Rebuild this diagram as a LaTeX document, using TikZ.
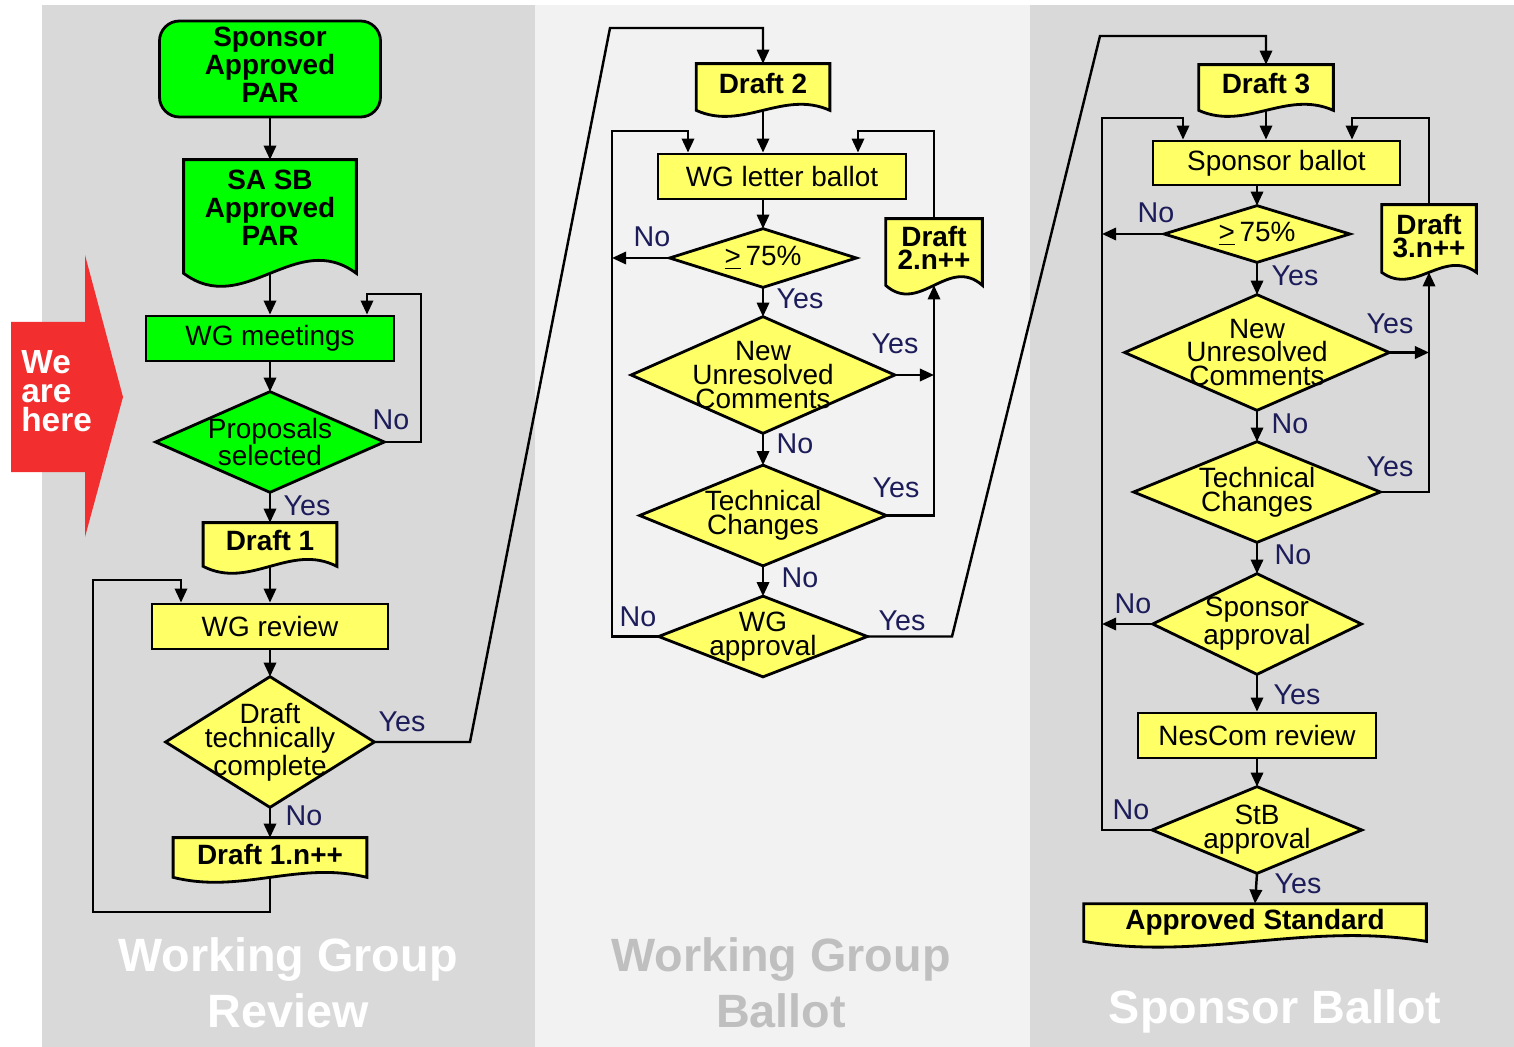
\documentclass[tikz,border=0pt]{standalone}
\usepackage{fontspec}
\setmainfont{Liberation Sans}
\usetikzlibrary{arrows.meta,calc}
\definecolor{colGray}{HTML}{D9D9D9}
\definecolor{colLight}{HTML}{F2F2F2}
\definecolor{flowGreen}{HTML}{00FF00}
\definecolor{flowYellow}{HTML}{FFFF66}
\definecolor{hereRed}{HTML}{F22E2E}
\definecolor{lblNavy}{HTML}{1C1C5A}
\definecolor{titleGray}{HTML}{BFBFBF}
\newcommand{\flowtxt}{\fontsize{15.9pt}{13.6pt}\selectfont}
\newcommand{\flowbold}{\fontsize{15.9pt}{13.4pt}\selectfont\bfseries}
\newcommand{\parbold}{\fontsize{15.9pt}{16pt}\selectfont\bfseries}
\newcommand{\yesno}{\fontsize{16.3pt}{16pt}\selectfont}
\newcommand{\titlefont}{\fontsize{26.6pt}{31.9pt}\selectfont\bfseries}
\newcommand{\heretxt}{\fontsize{19pt}{16.4pt}\selectfont\bfseries}
\pgfdeclarelayer{colbg}
\pgfdeclarelayer{outline}
\pgfsetlayers{colbg,outline,main}

\begin{document}
\begin{tikzpicture}[x=0.02cm,y=-0.02cm,
    sz/.style 2 args={minimum width=#1*0.02cm,minimum height=#2*0.02cm},
    outl/.style={draw=black,line width=1.6pt,line join=miter},
    startbox/.style={outl,fill=flowGreen,rounded corners=0.4cm,inner sep=0pt,align=center,font=\parbold},
    procbox/.style={outl,fill=flowYellow,inner sep=0pt,align=center,font=\flowtxt},
    docbox/.style={inner sep=0pt,align=center,font=\flowbold},
    decision/.style={inner sep=0pt,align=center,font=\flowtxt},
    answer/.style={inner sep=0pt,font=\yesno,text=lblNavy},
    coltitle/.style={inner sep=0pt,align=center,font=\titlefont},
    arr/.style={draw=black,line width=1.4pt,-{Triangle[length=8pt,width=7pt]}}]

  \useasboundingbox (0,0) rectangle (1514,1047);

  % column backgrounds and marker
  \begin{pgfonlayer}{colbg}
    \fill[colGray]  (42,5)   rectangle (535,1047);
    \fill[colLight] (535,5)  rectangle (1030,1047);
    \fill[colGray]  (1030,5) rectangle (1514,1047);
    \fill[hereRed] (11,322) -- (85,322) -- (85,255) -- (123,397) -- (85,537)
      -- (85,472) -- (11,472) -- cycle;
  \end{pgfonlayer}
  \node[font=\heretxt,text=white,align=left,anchor=west,inner sep=0pt] (here) at (21,391) {We\\are\\here};

  % working group review
  \node[startbox,sz={221}{96}] (spap) at (270,69) {Sponsor\\Approved\\PAR\\[-11.5pt]};
  \node[docbox,sz={172}{96},font=\parbold] (sasb) at (270,208) {SA SB\\Approved\\PAR};
  \node[procbox,fill=flowGreen,sz={248}{45}] (wgm) at (270,338.5) {WG meetings};
  \node[decision,sz={228}{100}] (prop) at (270,442) {Proposals\\selected};
  \node[docbox,sz={133}{36}] (d1) at (270,541) {Draft 1};
  \node[procbox,sz={236}{45}] (wgr) at (270,626.5) {WG review};
  \node[decision,sz={208}{130},font=\fontsize{15.9pt}{14pt}\selectfont] (dtc) at (270,742) {Draft\\technically\\complete};
  \node[docbox,sz={193}{34}] (d1n) at (270,855) {Draft 1.n++};

  % working group ballot
  \node[docbox,sz={133}{40}] (d2) at (763,84) {Draft 2};
  \node[procbox,sz={248}{45}] (wglb) at (782,176.5) {WG letter ballot};
  \node[decision,sz={186}{58}] (p75a) at (763,258) {\underline{>}\,75\%};
  \node[decision,sz={263}{116}] (nuca) at (763,375) {New\\Unresolved\\Comments};
  \node[decision,sz={246}{100}] (tca) at (763,515.5) {Technical\\Changes};
  \node[decision,sz={208}{80}] (wga) at (763,636.5) {WG\\approval};
  \node[docbox,sz={96}{58}] (d2n) at (934,248) {Draft\\2.n++};

  % sponsor ballot
  \node[docbox,sz={134}{38}] (d3) at (1266,84) {Draft 3};
  \node[procbox,sz={247}{44}] (spb) at (1276.5,163) {Sponsor ballot};
  \node[decision,sz={185}{56}] (p75b) at (1257,234) {\underline{>}\,75\%};
  \node[decision,sz={264}{115}] (nucb) at (1257,352.5) {New\\Unresolved\\Comments};
  \node[decision,sz={246}{100}] (tcb) at (1257,492) {Technical\\Changes};
  \node[decision,sz={208}{100}] (spa) at (1257,624) {Sponsor\\approval};
  \node[procbox,sz={238}{45}] (nes) at (1257,735.5) {NesCom review};
  \node[decision,sz={209}{86}] (stb) at (1257,830) {StB\\approval};
  \node[docbox,sz={342}{36}] (std) at (1255,922) {Approved Standard};
  \node[docbox,sz={94}{62}] (d3n) at (1429,236) {Draft\\3.n++};

  % document and decision outlines
  \begin{pgfonlayer}{outline}
    \foreach \n/\c/\b/\d in {sasb/flowGreen/17/45,d1/flowYellow/7/24,d1n/flowYellow/5/17,
        d2/flowYellow/6/21,d2n/flowYellow/8/30,d3/flowYellow/7/21,d3n/flowYellow/5/24,
        std/flowYellow/1/20}{
      \coordinate (\n-bl) at ($(\n.south west)+(0,\b)$);
      \coordinate (\n-br) at ($(\n.south east)+(0,\b)$);
      \coordinate (\n-b)  at ($(\n.south)+(0,\b)$);
      \draw[outl,fill=\c] (\n.north west) -- (\n.north east) -- (\n-br)
        .. controls ($(\n-br)!0.35!(\n-bl)+(0,-\d)$) and ($(\n-br)!0.65!(\n-bl)+(0,\d)$) .. (\n-bl) -- cycle;
    }
    \foreach \n/\c in {prop/flowGreen,dtc/flowYellow,p75a/flowYellow,nuca/flowYellow,
        tca/flowYellow,wga/flowYellow,p75b/flowYellow,nucb/flowYellow,tcb/flowYellow,
        spa/flowYellow,stb/flowYellow}
      \draw[outl,fill=\c] (\n.north) -- (\n.east) -- (\n.south) -- (\n.west) -- cycle;
  \end{pgfonlayer}

  % turning points
  \coordinate (lpL1) at (421,294);
  \coordinate (lpL2) at (93,912);
  \coordinate (lpL3) at (93,580);
  \coordinate (jmpA1) at (470,742);
  \coordinate (jmpA2) at (610,28);
  \coordinate (lpM1) at (612,131);
  \coordinate (lpM2) at (858,131);
  \coordinate (jmpB1) at (952,636.5);
  \coordinate (jmpB2) at (1100,36);
  \coordinate (lpR1) at (1102,118);
  \coordinate (lpR2) at (1352,118);

  % left flow
  \draw[arr] (spap.south) -- (sasb.north);
  \draw[arr] (sasb-b) -- (wgm.north);
  \draw[arr] (wgm.south) -- (prop.north);
  \draw[arr] (prop.east) -| (lpL1) -| ($(wgm.north)+(97,0)$);
  \draw[arr] (prop.south) -- (d1.north);
  \draw[arr] (d1-b) -- (wgr.north);
  \draw[arr] (wgr.south) -- (dtc.north);
  \draw[arr] (dtc.south) -- (d1n.north);
  \draw[arr] (d1n-b) |- (lpL2) -- (lpL3) -| ($(wgr.north)+(-89,0)$);
  \draw[arr] (dtc.east) -- (jmpA1) -- (jmpA2) -| (d2.north);

  % middle flow
  \draw[arr] (d2-b) -- (d2-b |- wglb.north);
  \draw[arr] (p75a.north |- wglb.south) -- (p75a.north);
  \draw[arr] (p75a.west) -- (p75a.west -| lpM1);
  \draw[arr] (p75a.south) -- (nuca.north);
  \draw[arr] (nuca.east) -- (nuca.east -| d2n-b);
  \draw[arr] (nuca.south) -- (tca.north);
  \draw[arr] (tca.east) -| (d2n-b);
  \draw[arr] (tca.south) -- (wga.north);
  \draw[arr] (wga.west) -| (lpM1) -| ($(wglb.north)+(-94,0)$);
  \draw[arr] (d2n.north) |- (lpM2) -- (lpM2 |- wglb.north);
  \draw[arr] (wga.east) -- (jmpB1) -- (jmpB2) -| (d3.north);

  % right flow
  \draw[arr] (d3-b) -- (d3-b |- spb.north);
  \draw[arr] (p75b.north |- spb.south) -- (p75b.north);
  \draw[arr] (p75b.west) -- (p75b.west -| lpR1);
  \draw[arr] (p75b.south) -- (nucb.north);
  \draw[arr] (nucb.east) -- (nucb.east -| d3n-b);
  \draw[arr] (nucb.south) -- (tcb.north);
  \draw[arr] (tcb.east) -| (d3n-b);
  \draw[arr] (d3n.north) |- (lpR2) -- (lpR2 |- spb.north);
  \draw[arr] (tcb.south) -- (spa.north);
  \draw[arr] (spa.west) -- (spa.west -| lpR1);
  \draw[arr] (spa.south) -- (nes.north);
  \draw[arr] (nes.south) -- (stb.north);
  \draw[arr] (stb.west) -| (lpR1) -| ($(spb.north)+(-93.5,0)$);
  \draw[arr] (stb.south) -- (std.north);

  % answers
  \node[answer] (aL1) at (391,420) {No};
  \node[answer] (aL2) at (307,506) {Yes};
  \node[answer] (aL3) at (402,722) {Yes};
  \node[answer] (aL4) at (304,816) {No};
  \node[answer] (aM1) at (652,237) {No};
  \node[answer] (aM2) at (800,299) {Yes};
  \node[answer] (aM3) at (895,344) {Yes};
  \node[answer] (aM4) at (795,444) {No};
  \node[answer] (aM5) at (896,488) {Yes};
  \node[answer] (aM6) at (800,578) {No};
  \node[answer] (aM7) at (638,617) {No};
  \node[answer] (aM8) at (902,621) {Yes};
  \node[answer] (aR1) at (1156,213) {No};
  \node[answer] (aR2) at (1295,276) {Yes};
  \node[answer] (aR3) at (1390,324) {Yes};
  \node[answer] (aR4) at (1290,424) {No};
  \node[answer] (aR5) at (1390,467) {Yes};
  \node[answer] (aR6) at (1293,555) {No};
  \node[answer] (aR7) at (1133,604) {No};
  \node[answer] (aR8) at (1297,695) {Yes};
  \node[answer] (aR9) at (1131,810) {No};
  \node[answer] (aR10) at (1298,884) {Yes};

  % column titles
  \node[coltitle,text=white] (tReview) at (288,983) {Working Group\\Review};
  \node[coltitle,text=titleGray] (tBallot) at (781,983) {Working Group\\Ballot};
  \node[coltitle,text=white] (tSponsor) at (1275,1011) {Sponsor Ballot};
\end{tikzpicture}
\end{document}
